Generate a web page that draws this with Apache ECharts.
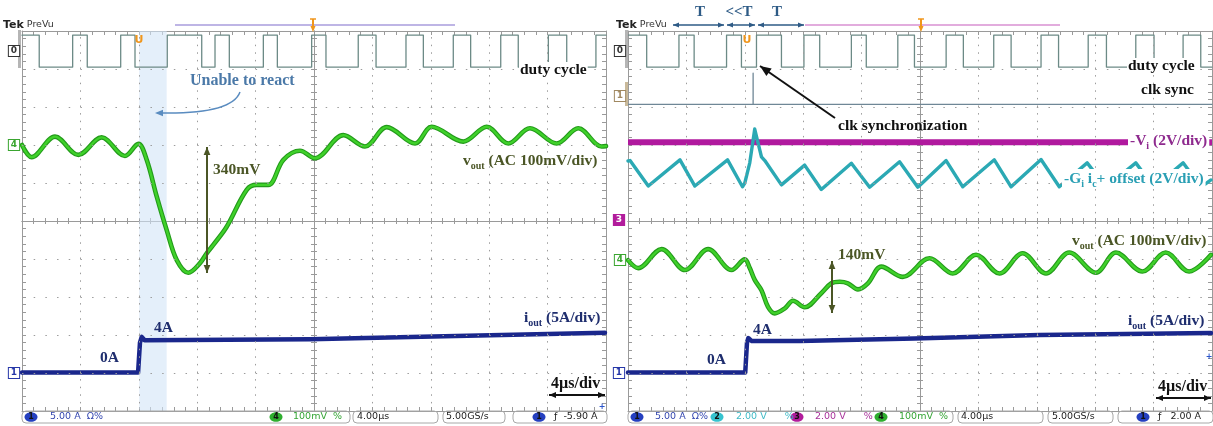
<!DOCTYPE html>
<html><head><meta charset="utf-8">
<script src="https://cdn.jsdelivr.net/npm/echarts/dist/echarts.min.js"></script>
<style>html,body{margin:0;padding:0;background:#fff;}#c{width:1213px;height:426px;}</style>
</head><body><div id="c"></div>
<script>
// ===================== DATA (time in µs, amplitude in screen divisions) =====================
const timeMin = -20, timeMax = 20, timeStep = 4;      // 4 µs/div, 10 divisions
const divMin = -5, divMax = 5;
const gratTimes = [-16, -12, -8, -4, 4, 8, 12, 16];   // graticule (vertical)
const gratDivs = [-4, -3, -2, -1, 1, 2, 3, 4];        // graticule (horizontal)
const dutyHigh = 4.89, dutyLow = 4.05;
// duty-cycle transition times (alternating, trace starts high)
const dutyEdgesLeft = [-18.82,-16.53,-15.53,-13.24,-12.26,-10.05,-7.69,-6.78,-5.80,-3.47,-2.51,-0.16,0.82,3.03,4.25,6.30,7.49,9.54,10.73,12.79,13.99,16.05,17.31,19.31];
const dutyEdgesRight = [-18.72,-16.51,-15.47,-13.25,-12.23,-11.20,-9.49,-7.95,-6.87,-4.70,-3.68,-1.52,-0.38,1.79,2.97,5.05,6.24,8.29,9.49,11.52,12.77,14.78,16.03,18.02,19.23];
// v_out (AC, 100 mV/div) - left: conventional control
const voutLeft = [[-20,2.0],[-19.34,1.68],[-17.74,2.22],[-16.14,1.74],[-14.54,2.20],[-12.95,1.71],[-12.03,2.03],[-11.46,1.61],[-10.77,0.64],[-10.09,-0.24],[-9.40,-1.03],[-8.61,-1.36],[-7.81,-1.11],[-7.35,-0.85],[-6.90,-0.63],[-5.98,-0.15],[-4.61,0.82],[-3.93,0.95],[-3.13,0.95],[-2.10,1.61],[-0.96,1.85],[0.07,1.65],[2.01,2.26],[3.49,1.96],[4.98,2.47],[6.92,2.04],[8.06,2.48],[10.23,2.09],[11.83,2.48],[13.31,2.04],[14.79,2.44],[16.62,2.04],[18.10,2.44],[19.70,1.96],[20.0,1.97]];
// i_out (5 A/div) - left
const ioutLeft = [[-20,-3.99],[-12.05,-3.99],[-11.92,-3.2],[-11.80,-3.05],[-11.6,-3.14],[-0.27,-3.11],[8.15,-3.04],[19.93,-2.94]];
const shadeSpanLeft = [-11.97, -10.09];
// right: with clock synchronization
const clkSyncLevel = 3.07, clkSyncPulseTime = -11.43, clkSyncPulseTop = 3.89;
const viLevel = 2.07;
const giRight = [[-20,1.58],[-19.86,1.59],[-18.61,0.92],[-16.44,1.61],[-15.42,0.92],[-13.18,1.61],[-12.16,0.90],[-12.0,1.0],[-11.66,1.53],[-11.43,2.13],[-11.32,2.42],[-11.09,2.05],[-10.86,1.69],[-10.63,1.59],[-9.49,0.95],[-7.90,1.47],[-6.76,0.83],[-4.70,1.52],[-3.45,0.89],[-1.40,1.56],[-0.15,0.89],[1.79,1.59],[2.93,0.90],[5.09,1.61],[6.24,0.90],[8.29,1.62],[9.54,0.90],[11.45,1.53],[12.75,0.89],[14.78,1.53],[16.03,0.89],[18.02,1.53],[19.25,0.89],[19.93,1.08]];
const voutRight = [[-20,-1.03],[-19.30,-1.24],[-17.70,-0.74],[-16.10,-1.29],[-14.51,-0.74],[-12.91,-1.29],[-12.0,-1.01],[-11.66,-1.24],[-11.32,-1.55],[-10.86,-1.82],[-10.41,-2.26],[-9.95,-2.43],[-9.26,-2.30],[-8.70,-2.10],[-7.90,-2.27],[-6.76,-1.90],[-6.07,-1.64],[-5.50,-1.60],[-4.94,-1.64],[-4.25,-1.80],[-3.57,-1.64],[-2.65,-1.20],[-1.18,-1.47],[0.65,-0.98],[2.24,-1.38],[3.84,-0.89],[5.44,-1.38],[7.03,-0.85],[8.63,-1.38],[10.22,-0.83],[12.05,-1.36],[13.42,-0.83],[15.23,-1.33],[16.83,-0.83],[18.43,-1.33],[19.93,-0.89]];
const ioutRight = [[-20,-3.99],[-11.97,-3.99],[-11.85,-3.2],[-11.76,-3.08],[-11.52,-3.16],[-8.24,-3.16],[-0.38,-3.09],[8.17,-3.0],[19.93,-2.95]];

// ===================== BUILD =====================
function squareWave(edges, startHigh) {
  let lvl = startHigh ? dutyHigh : dutyLow;
  const pts = [[timeMin, lvl]];
  edges.forEach(t => { pts.push([t, lvl]); lvl = (lvl === dutyHigh) ? dutyLow : dutyHigh; pts.push([t, lvl]); });
  pts.push([timeMax, lvl]);
  return pts;
}
const GRID_COL = '#9a9a9a', DOT_COL = '#9c9c9c';
const PANEL_L = {left:22, top:31, width:584, height:380};
const PANEL_R = {left:628, top:31, width:584, height:380};
function panelAxes(gridIndex, xBase, yBase) {
  const xc = {gridIndex, type:'value', min:timeMin, max:timeMax, interval:timeStep, axisLabel:{show:false}, splitLine:{show:false}};
  const yc = {gridIndex, type:'value', min:divMin, max:divMax, interval:1, axisLabel:{show:false}, splitLine:{show:false}};
  const ticks = (len) => ({axisTick:{show:true, inside:true, length:len, lineStyle:{color:GRID_COL}}, minorTick:{show:true, splitNumber:5, length:len, lineStyle:{color:GRID_COL}}});
  const xs = [
    Object.assign({}, xc, ticks(4), {position:'bottom', axisLine:{onZero:false, lineStyle:{color:GRID_COL}}}),
    Object.assign({}, xc, ticks(4), {position:'top', axisLine:{onZero:false, lineStyle:{color:GRID_COL}}}),
    Object.assign({}, xc, ticks(3), {position:'bottom', axisLine:{onZero:true, onZeroAxisIndex:yBase, lineStyle:{color:GRID_COL}}}),
    Object.assign({}, xc, ticks(3), {position:'top', axisLine:{onZero:true, onZeroAxisIndex:yBase, lineStyle:{color:GRID_COL}}})
  ];
  const ys = [
    Object.assign({}, yc, ticks(4), {position:'left', axisLine:{onZero:false, lineStyle:{color:GRID_COL}}}),
    Object.assign({}, yc, ticks(4), {position:'right', axisLine:{onZero:false, lineStyle:{color:GRID_COL}}}),
    Object.assign({}, yc, ticks(3), {position:'left', axisLine:{onZero:true, onZeroAxisIndex:xBase, lineStyle:{color:GRID_COL}}}),
    Object.assign({}, yc, ticks(3), {position:'right', axisLine:{onZero:true, onZeroAxisIndex:xBase, lineStyle:{color:GRID_COL}}})
  ];
  return {xs, ys};
}
const L = panelAxes(0, 0, 0), R = panelAxes(1, 4, 4);

function trace(data, xi, yi, color, width, extra) {
  return Object.assign({type:'line', data, xAxisIndex:xi, yAxisIndex:yi, showSymbol:false, symbol:'none',
    lineStyle:{color, width, type:'solid', cap:'round', join:'round'}, animation:false, silent:true, z:3}, extra || {});
}
function graticuleMarkLine() {
  const v = gratTimes.map(t => ({xAxis:t, lineStyle:{color:DOT_COL, width:1, type:[1.5, 6.1]}}));
  const h = gratDivs.map(d => ({yAxis:d, lineStyle:{color:DOT_COL, width:1, type:[1.5, 10.18]}}));
  return {silent:true, animation:false, symbol:['none','none'], label:{show:false}, precision:4,
    lineStyle:{color:DOT_COL, width:1, type:[1.5, 6.1], opacity:1}, data:v.concat(h)};
}
const series = [
  trace(squareWave(dutyEdgesLeft, true), 0, 0, '#6c8a86', 1.3, {
    markLine:graticuleMarkLine(),
    markArea:{silent:true, itemStyle:{color:'rgba(210,228,246,0.6)'}, data:[[{xAxis:shadeSpanLeft[0], yAxis:divMin},{xAxis:shadeSpanLeft[1], yAxis:divMax}]]}}),
  trace(voutLeft, 0, 0, '#239a1a', 4.6, {smooth:0.35}),
  trace(voutLeft, 0, 0, '#3fd12a', 2.4, {smooth:0.35, z:4}),
  trace(ioutLeft, 0, 0, '#1a278c', 4.5),

  trace(squareWave(dutyEdgesRight, true), 4, 4, '#6c8a86', 1.3, {markLine:graticuleMarkLine()}),
  trace([[timeMin, clkSyncLevel],[clkSyncPulseTime, clkSyncLevel],[clkSyncPulseTime, clkSyncPulseTop],[clkSyncPulseTime, clkSyncLevel],[timeMax, clkSyncLevel]], 4, 4, '#6f8796', 1.3),
  trace([[timeMin, viLevel],[timeMax, viLevel]], 4, 4, '#b0199e', 6, {lineStyle:{color:'#b0199e', width:6, type:'solid', cap:'butt'}}),
  trace(giRight, 4, 4, '#2ba9b4', 3.4),
  trace(voutRight, 4, 4, '#239a1a', 4.6, {smooth:0.35}),
  trace(voutRight, 4, 4, '#3fd12a', 2.4, {smooth:0.35, z:4}),
  trace(ioutRight, 4, 4, '#1a278c', 4.5)
];

// ===================== ANNOTATIONS =====================
const SERIF = '"Liberation Serif","Times New Roman",serif';
const SANS = '"DejaVu Sans",sans-serif';
const OLIVE = '#4b5626', NAVY = '#1f2e6e';
const G = [];
function add(e) { Array.isArray(e) ? G.push(...e) : G.push(e); }
function txt(x, y, text, fill, size, extra) {
  return {type:'text', x, y, z:110, silent:true, style:Object.assign({text, fill, font:'bold ' + size + 'px ' + SERIF,
    align:'left', textAlign:'left', verticalAlign:'middle', textVerticalAlign:'middle'}, extra || {})};
}
function rich(x, y, text, fill, size, extra) {
  return {type:'text', x, y, z:110, silent:true, style:Object.assign({text, fill, align:'left', textAlign:'left', verticalAlign:'middle', textVerticalAlign:'middle',
    rich:{b:{font:'bold ' + size + 'px ' + SERIF, fill, lineHeight:20}, s:{font:'bold ' + Math.round(size*0.66) + 'px ' + SERIF, fill, lineHeight:10, verticalAlign:'bottom'}}}, extra || {})};
}
function head(x, y, ang, color, s) {
  const w = s * 0.42, bx = x - Math.cos(ang) * s, by = y - Math.sin(ang) * s;
  const nx = -Math.sin(ang) * w, ny = Math.cos(ang) * w;
  return {type:'polygon', z:105, silent:true, shape:{points:[[x,y],[bx+nx,by+ny],[bx-nx,by-ny]]}, style:{fill:color}};
}
function arrow(x1, y1, x2, y2, color, width, both, s) {
  const a = Math.atan2(y2 - y1, x2 - x1);
  const out = [{type:'line', z:104, silent:true, shape:{x1, y1, x2, y2}, style:{stroke:color, lineWidth:width}}, head(x2, y2, a, color, s)];
  if (both) out.push(head(x1, y1, a + Math.PI, color, s));
  return out;
}
function hline(x1, x2, y, color, w) { return {type:'line', z:104, silent:true, shape:{x1, y1:y, x2, y2:y}, style:{stroke:color, lineWidth:w}}; }
function trigT(x) { return [ {type:'line', z:106, silent:true, shape:{x1:x-3, y1:19, x2:x+3, y2:19}, style:{stroke:'#f0961c', lineWidth:1.5}},
  {type:'line', z:106, silent:true, shape:{x1:x, y1:19, x2:x, y2:28}, style:{stroke:'#f0961c', lineWidth:2}}, head(x, 32, Math.PI/2, '#f0961c', 6)]; }
function marker(x, y, t, color, filled) {
  return {type:'text', x, y, z:110, silent:true, style:{text:t, font:'bold 9px ' + SANS, fill: filled ? '#fff' : color, backgroundColor: filled ? color : '#fff',
    borderColor:color, borderWidth:1, padding:[1,2,0,2], align:'center', textAlign:'center', verticalAlign:'middle', textVerticalAlign:'middle'}};
}
function chip(x, y, t, color) {
  return [{type:'ellipse', z:108, silent:true, shape:{cx:x, cy:y, rx:6.5, ry:4.8}, style:{fill:color}},
    {type:'text', x, y, z:110, silent:true, style:{text:t, font:'bold 8px ' + SANS, fill:'#111', align:'center', textAlign:'center', verticalAlign:'middle', textVerticalAlign:'middle'}}];
}
function stxt(x, y, t, color) { return {type:'text', x, y, z:110, silent:true, style:{text:t, font:'9.5px ' + SANS, fill:color, align:'left', textAlign:'left', verticalAlign:'middle', textVerticalAlign:'middle'}}; }
function box(x1, x2) { return {type:'rect', z:102, silent:true, shape:{x:x1, y:411, width:x2-x1, height:12, r:4}, style:{fill:'none', stroke:'#a8a8a8', lineWidth:1}}; }

// ---- left panel ----
add(rich(3, 25, '{a|Tek}{p| PreVu}', '#111', 11, {rich:{a:{font:'bold 11px ' + SANS, fill:'#222'}, p:{font:'9.5px ' + SANS, fill:'#333'}}}));
add(hline(175, 455, 25, '#a99cdc', 1.5));
add(trigT(313));
add(txt(139, 40, 'U', '#f0961c', 11, {font:'bold 11px ' + SANS, align:'center', textAlign:'center'}));
add({type:'rect', z:101, silent:true, shape:{x:18, y:30, width:3, height:38}, style:{fill:'#b5b5b5'}});
add(marker(14, 51, '0', '#333', false));
add(marker(14, 145, '4', '#3aa530', false));
add(marker(14, 373, '1', '#2637a8', false));
add(txt(190, 81, 'Unable to react', '#4b79a8', 16));
add({type:'bezierCurve', z:104, silent:true, shape:{x1:240, y1:92, x2:162, y2:113, cpx1:232, cpy1:114}, style:{stroke:'#5a8cc0', lineWidth:1.5, fill:'none'}});
add(head(155, 113, Math.PI, '#5a8cc0', 8));
add(txt(213, 170, '340mV', OLIVE, 15.5));
add(arrow(207, 147, 207, 273, OLIVE, 2, true, 8));
add(rich(463, 161, '{b|v}{s|out}{b| (AC 100mV/div)}', OLIVE, 15.5));
add(txt(519, 70, 'duty cycle', '#111', 15.5, {backgroundColor:'#fff', padding:[0,1]}));
add(txt(154, 328, '4A', NAVY, 15.5));
add(txt(100, 358, '0A', NAVY, 15.5));
add(rich(524, 318, '{b|i}{s|out}{b| (5A/div)}', NAVY, 15.5));
add(txt(551, 384, '4µs/div', '#111', 16));
add(arrow(549, 395, 605, 395, '#111', 2, true, 7));
add({type:'text', x:602, y:407, z:110, silent:true, style:{text:'+', font:'bold 8px ' + SANS, fill:'#2a55cc', align:'center', textAlign:'center', verticalAlign:'middle', textVerticalAlign:'middle'}});
// status bar left
add(box(22, 350)); add(box(353, 438)); add(box(443, 505)); add(box(513, 607));
add(chip(31, 417, '1', '#2540c0')); add(stxt(50, 417, '5.00 A  Ω%', '#3447b0'));
add(chip(276, 417, '4', '#2fae2f')); add(stxt(293, 417, '100mV  %', '#35a535'));
add(stxt(357, 417, '4.00µs', '#222'));
add(stxt(446, 417, '5.00GS/s', '#222'));
add(chip(539, 417, '1', '#2540c0')); add(stxt(554, 417, 'ƒ  -5.90 A', '#222'));

// ---- right panel ----
add(rich(616, 25, '{a|Tek}{p| PreVu}', '#111', 11, {rich:{a:{font:'bold 11px ' + SANS, fill:'#222'}, p:{font:'9.5px ' + SANS, fill:'#333'}}}));
const TB = '#2e5b86';
add(txt(700, 12, 'T', TB, 15, {align:'center', textAlign:'center'}));
add(txt(739, 12, '<<T', TB, 15, {align:'center', textAlign:'center'}));
add(txt(777, 12, 'T', TB, 15, {align:'center', textAlign:'center'}));
add(arrow(673, 25, 724, 25, TB, 1.5, true, 6));
add(arrow(727, 25, 755, 25, TB, 1.5, true, 6));
add(arrow(758, 25, 804, 25, TB, 1.5, true, 6));
add(hline(805, 1060, 25, '#d890d2', 1.5));
add(trigT(921));
add(txt(747, 40, 'U', '#f0961c', 11, {font:'bold 11px ' + SANS, align:'center', textAlign:'center'}));
add({type:'rect', z:101, silent:true, shape:{x:625, y:30, width:3, height:38}, style:{fill:'#b5b5b5'}});
add({type:'rect', z:101, silent:true, shape:{x:625, y:82, width:3, height:24}, style:{fill:'#c9b99a'}});
add(marker(620, 51, '0', '#333', false));
add(marker(620, 96, '1', '#a08860', false));
add(marker(619, 220, '3', '#b21c9c', true));
add(marker(620, 260, '4', '#3aa530', false));
add(marker(619, 373, '1', '#2637a8', false));
add(txt(838, 126, 'clk synchronization', '#111', 15.5));
add(arrow(835, 118, 760, 66, '#111', 2, false, 11));
add(txt(1127, 66, 'duty cycle', '#111', 15.5, {backgroundColor:'#fff', padding:[0,1]}));
add(txt(1141, 90, 'clk sync', '#111', 15.5));
add(rich(1128, 141, '{b|-V}{s|i}{b| (2V/div)}', '#8e2a8e', 15.5, {backgroundColor:'#fff', padding:[0,2]}));
add(rich(1062, 179, '{b|-G}{s|i}{b| i}{s|c}{b|+ offset (2V/div)}', '#2a9fb4', 15.5, {backgroundColor:'#fff', padding:[0,2]}));
add(rich(1072, 241, '{b|v}{s|out}{b| (AC 100mV/div)}', OLIVE, 15.5));
add(txt(838, 255, '140mV', OLIVE, 15.5));
add(arrow(832, 261, 832, 313, OLIVE, 2, true, 8));
add(txt(753, 330, '4A', NAVY, 15.5));
add(txt(707, 360, '0A', NAVY, 15.5));
add(rich(1128, 321, '{b|i}{s|out}{b| (5A/div)}', NAVY, 15.5));
add(txt(1158, 387, '4µs/div', '#111', 16));
add(arrow(1156, 398, 1211, 398, '#111', 2, true, 7));
add({type:'text', x:1209, y:357, z:110, silent:true, style:{text:'+', font:'bold 8px ' + SANS, fill:'#2a55cc', align:'center', textAlign:'center', verticalAlign:'middle', textVerticalAlign:'middle'}});
// status bar right
add(box(628, 953)); add(box(958, 1043)); add(box(1048, 1113)); add(box(1118, 1213));
add(chip(637, 417, '1', '#2540c0')); add(stxt(655, 417, '5.00 A  Ω%', '#3447b0'));
add(chip(717, 417, '2', '#36c3cf')); add(stxt(736, 417, '2.00 V      %', '#3fbac6'));
add(chip(797, 417, '3', '#b21c9c')); add(stxt(815, 417, '2.00 V      %', '#a8309a'));
add(chip(881, 417, '4', '#2fae2f')); add(stxt(899, 417, '100mV  %', '#35a535'));
add(stxt(961, 417, '4.00µs', '#222'));
add(stxt(1052, 417, '5.00GS/s', '#222'));
add(chip(1143, 417, '1', '#2540c0')); add(stxt(1158, 417, 'ƒ   2.00 A', '#222'));

const chart = echarts.init(document.getElementById('c'), null, {renderer:'canvas', width:1213, height:426});
chart.setOption({
  backgroundColor:'#ffffff',
  animation:false,
  grid:[Object.assign({show:false}, PANEL_L), Object.assign({show:false}, PANEL_R)],
  xAxis: L.xs.concat(R.xs),
  yAxis: L.ys.concat(R.ys),
  series,
  graphic: G
});
</script>
</body></html>
